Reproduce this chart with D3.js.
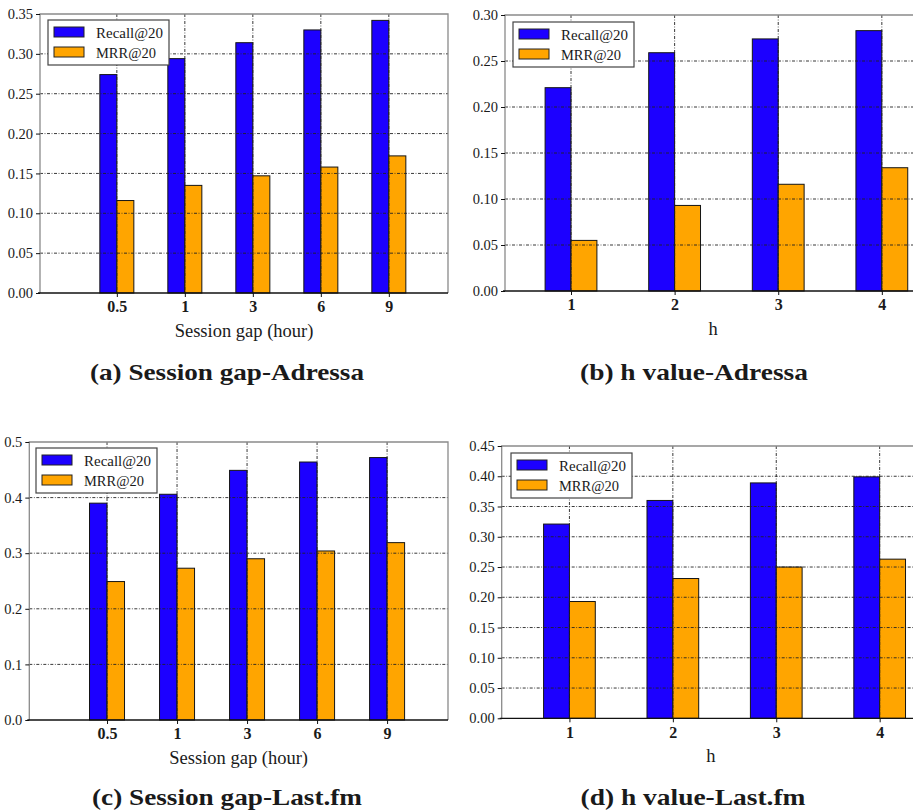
<!DOCTYPE html>
<html>
<head>
<meta charset="utf-8">
<script src="https://cdn.jsdelivr.net/npm/d3@7"></script>
<style>
  html, body { margin: 0; padding: 0; background: #fff; }
  svg { display: block; }
  text { font-family: "Liberation Serif", "DejaVu Serif", serif; fill: #1a1a1a; }
</style>
</head>
<body>
<svg id="fig" width="913" height="812"></svg>
<script>
// ---- data ----
const gapCategories = ["0.5", "1", "3", "6", "9"];
const hCategories = ["1", "2", "3", "4"];
const seriesNames = ["Recall@20", "MRR@20"];

const adressaGapRecall = [0.274, 0.294, 0.314, 0.330, 0.342];
const adressaGapMRR    = [0.116, 0.135, 0.147, 0.158, 0.172];
const adressaHRecall   = [0.221, 0.259, 0.274, 0.283];
const adressaHMRR      = [0.055, 0.093, 0.116, 0.134];
const lastfmGapRecall  = [0.390, 0.406, 0.449, 0.464, 0.472];
const lastfmGapMRR     = [0.249, 0.273, 0.290, 0.304, 0.319];
const lastfmHRecall    = [0.321, 0.360, 0.389, 0.399];
const lastfmHMRR       = [0.193, 0.231, 0.250, 0.263];

const adressaGapTicks = [0, 0.05, 0.10, 0.15, 0.20, 0.25, 0.30, 0.35];
const adressaHTicks   = [0, 0.05, 0.10, 0.15, 0.20, 0.25, 0.30];
const lastfmGapTicks  = [0, 0.1, 0.2, 0.3, 0.4, 0.5];
const lastfmHTicks    = [0, 0.05, 0.10, 0.15, 0.20, 0.25, 0.30, 0.35, 0.40, 0.45];

const captions = ["(a) Session gap-Adressa", "(b) h value-Adressa",
                  "(c) Session gap-Last.fm", "(d) h value-Last.fm"];
const xTitles = ["Session gap (hour)", "h", "Session gap (hour)", "h"];

// ---- styling ----
const colors = ["#1c00ff", "#ffa500"];
const gridDash = "3,1.6,0.8,1.6";
const barW = 0.25;

const svg = d3.select("#fig");
svg.append("rect").attr("width", 913).attr("height", 812).attr("fill", "#fff");

const panels = [
  { box: [40, 14, 448, 293],   xd: [-1.13, 4.87],  cats: gapCategories, s: [adressaGapRecall, adressaGapMRR], ticks: adressaGapTicks, fmt: ".2f", cap: [227, 380, 274], legend: [48, 20] },
  { box: [505, 15, 921, 291],  xd: [-0.637, 3.378], cats: hCategories,  s: [adressaHRecall, adressaHMRR],   ticks: adressaHTicks,   fmt: ".2f", cap: [694, 380, 228], legend: [513, 22] },
  { box: [29.3, 442, 448, 720], xd: [-1.11, 4.87], cats: gapCategories, s: [lastfmGapRecall, lastfmGapMRR], ticks: lastfmGapTicks,  fmt: ".1f", cap: [227, 805, 270], legend: [36, 448] },
  { box: [501.7, 446, 920, 718.3], xd: [-0.655, 3.39], cats: hCategories, s: [lastfmHRecall, lastfmHMRR],   ticks: lastfmHTicks,    fmt: ".2f", cap: [693, 805, 225], legend: [511, 453] }
];

panels.forEach((p, k) => {
  const [x0, y0, x1, y1] = p.box;
  const x = d3.scaleLinear().domain(p.xd).range([x0, x1]);
  const y = d3.scaleLinear().domain([0, p.ticks[p.ticks.length - 1]]).range([y1, y0]);
  const g = svg.append("g");

  // bars
  p.s.forEach((vals, si) => {
    g.append("g").selectAll("rect").data(vals).join("rect")
      .attr("x", (d, i) => x(i + (si === 0 ? -barW : 0)))
      .attr("width", x(barW) - x(0))
      .attr("y", d => y(d))
      .attr("height", d => y(0) - y(d))
      .attr("fill", colors[si])
      .attr("stroke", "#151515")
      .attr("stroke-width", 1);
  });

  // grid (drawn over bars, dash-dot)
  const grid = g.append("g").attr("stroke", "#222").attr("stroke-width", 0.9)
    .attr("stroke-dasharray", gridDash).attr("fill", "none");
  grid.selectAll("line.h").data(p.ticks.slice(1, -1)).join("line")
    .attr("x1", x0).attr("x2", x1).attr("y1", d => y(d)).attr("y2", d => y(d));
  grid.selectAll("line.v").data(p.cats.map((c, i) => i)).join("line")
    .attr("x1", d => x(d)).attr("x2", d => x(d)).attr("y1", y0).attr("y2", y1);

  // frame
  g.append("path").attr("d", `M${x0},${y1}V${y0}H${x1}V${y1}`)
    .attr("fill", "none").attr("stroke", "#8a8a8a").attr("stroke-width", 1.3);

  // y axis
  const yAxis = d3.axisLeft(y).tickValues(p.ticks).tickFormat(d3.format(p.fmt))
    .tickSize(4).tickPadding(3).tickSizeOuter(0);
  const ya = g.append("g").attr("transform", `translate(${x0},0)`).call(yAxis);
  ya.select(".domain").remove();
  ya.selectAll("line").attr("stroke", "#111");
  ya.selectAll("text").attr("font-size", 14.5).attr("fill", "#2a2a3a")
    .style("font-family", "'Liberation Serif', serif");

  // x axis
  const xAxis = d3.axisBottom(x).tickValues(p.cats.map((c, i) => i))
    .tickFormat(i => p.cats[i]).tickSize(4).tickPadding(4).tickSizeOuter(0);
  const xa = g.append("g").attr("transform", `translate(0,${y1})`).call(xAxis);
  xa.select(".domain").attr("stroke", "#111").attr("stroke-width", 1.3)
    .attr("d", `M${x0 - 2},0H${x1}`);
  xa.selectAll("line").attr("stroke", "#111");
  xa.selectAll("text").attr("font-size", 16).attr("font-weight", "bold").attr("fill", "#1a1a2a")
    .style("font-family", "'Liberation Serif', serif");

  // x title
  g.append("text").attr("x", (x0 + x1) / 2).attr("y", y1 + 44)
    .attr("text-anchor", "middle").attr("font-size", 18.5).text(xTitles[k]);

  // legend
  const [lx, ly] = p.legend;
  const lg = g.append("g").attr("transform", `translate(${lx},${ly})`);
  lg.append("rect").attr("width", 121).attr("height", 45)
    .attr("fill", "#fff").attr("stroke", "#444").attr("stroke-width", 1.2);
  seriesNames.forEach((name, si) => {
    lg.append("rect").attr("x", 6).attr("y", 7 + si * 20).attr("width", 30).attr("height", 10)
      .attr("fill", colors[si]).attr("stroke", "#222").attr("stroke-width", 1);
    lg.append("text").attr("x", 48).attr("y", 17.5 + si * 20).attr("font-size", 15)
      .attr("textLength", si === 0 ? 67 : 60).attr("lengthAdjust", "spacingAndGlyphs").text(name);
  });

  // caption
  svg.append("text").attr("x", p.cap[0]).attr("y", p.cap[1])
    .attr("text-anchor", "middle").attr("font-size", 24).attr("font-weight", "bold")
    .attr("textLength", p.cap[2]).attr("lengthAdjust", "spacingAndGlyphs")
    .attr("fill", "#111").text(captions[k]);
});
</script>
</body>
</html>
